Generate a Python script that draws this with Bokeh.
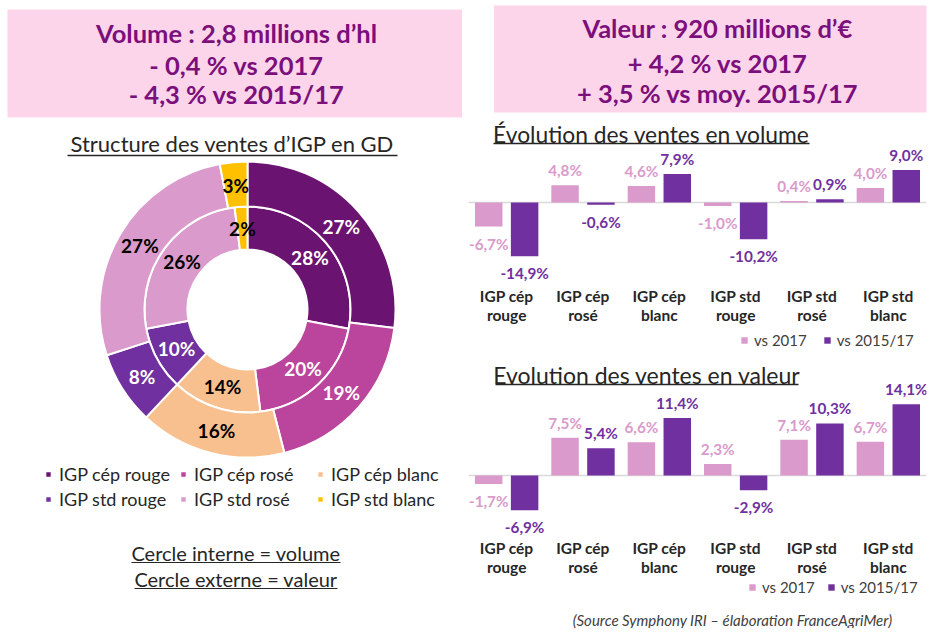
import math
from bokeh.plotting import figure
from bokeh.models import ColumnDataSource, Range1d, FactorRange, Legend, LegendItem, Span
from bokeh.layouts import row, column
from bokeh.transform import dodge
from bokeh.core.properties import value
from bokeh.embed import file_html
from bokeh.resources import INLINE

# ---------------- data ----------------
segments = ["IGP cép rouge", "IGP cép rosé", "IGP cép blanc",
            "IGP std rouge", "IGP std rosé", "IGP std blanc"]
share_volume = [28, 20, 14, 10, 26, 2]      # inner ring (%)
share_value = [27, 19, 16, 8, 27, 3]        # outer ring (%)

tick_labels = ["IGP cép\nrouge", "IGP cép\nrosé", "IGP cép\nblanc",
               "IGP std\nrouge", "IGP std\nrosé", "IGP std\nblanc"]
series_names = ["vs 2017", "vs 2015/17"]
vol_vs_2017 = [-6.7, 4.8, 4.6, -1.0, 0.4, 4.0]
vol_vs_1517 = [-14.9, -0.6, 7.9, -10.2, 0.9, 9.0]
val_vs_2017 = [-1.7, 7.5, 6.6, 2.3, 7.1, 6.7]
val_vs_1517 = [-6.9, 5.4, 11.4, -2.9, 10.3, 14.1]

header_volume = ["Volume : 2,8 millions d’hl", "- 0,4 % vs 2017", "- 4,3 % vs 2015/17"]
header_value = ["Valeur : 920 millions d’€", "+ 4,2 % vs 2017", "+ 3,5 % vs moy. 2015/17"]
title_donut = "Structure des ventes d’IGP en GD"
title_vol = "Évolution des ventes en volume"
title_val = "Evolution des ventes en valeur"
notes = ["Cercle interne = volume", "Cercle externe = valeur"]
source_note = "(Source Symphony IRI – élaboration FranceAgriMer)"

# ---------------- styles ----------------
FONT = "Lato"
seg_colors = ["#6b1370", "#bb449d", "#f8c08f", "#7030a0", "#da9acb", "#ffc000"]
seg_label_colors = ["white", "white", "black", "white", "black", "black"]
PINK_BOX = "#fdd5ea"
HDR_TXT = "#7b0f7b"
C_2017 = "#da9acb"
C_1517 = "#7030a0"
DARK = "#262626"
GREY = "#404040"

W_LEFT, W_RIGHT, H_ALL = 462, 467, 628
H_HDR = 114


def fmt(v):
    return ("%.1f" % v).replace(".", ",") + "%"


def base_fig(width, height, xr, yr):
    p = figure(width=width, height=height, x_range=xr, y_range=yr,
               output_backend="svg", toolbar_location=None, min_border=0,
               x_axis_location=None, y_axis_location=None,
               outline_line_color=None, background_fill_color="white",
               border_fill_color="white")
    p.grid.visible = False
    return p


def txt(p, x, y, s, size, color, style="normal", align="center", **kw):
    p.text(x=[x], y=[y], text=[s], text_font=value(FONT), text_font_size=size,
           text_font_style=style, text_color=color, text_align=align,
           text_baseline="middle", **kw)


# ---------------- left panel: donut ----------------
L = base_fig(W_LEFT, H_ALL, Range1d(0, W_LEFT), Range1d(-H_ALL, 0))
L.quad(left=7, right=464, bottom=-117, top=-9, fill_color=PINK_BOX, line_color=None)
for line, yy in zip(header_volume, [-32, -64, -93]):
    txt(L, 236, yy, line, "25.5px", HDR_TXT, "bold")

txt(L, 232, -143, title_donut, "22px", DARK)
L.segment(x0=[67], x1=[397], y0=[-155], y1=[-155], line_color=DARK, line_width=1.3)

CX, CY = 247, -309


def ring(shares, r_in, r_out, r_lab):
    starts, ends, lx, ly = [], [], [], []
    c = 0.0
    for s in shares:
        a0 = math.pi / 2 - 2 * math.pi * (c + s) / 100
        a1 = math.pi / 2 - 2 * math.pi * c / 100
        mid = math.pi / 2 - 2 * math.pi * (c + s / 2) / 100
        starts.append(a0)
        ends.append(a1)
        lx.append(CX + r_lab * math.cos(mid))
        ly.append(CY + r_lab * math.sin(mid))
        c += s
    src = ColumnDataSource(dict(start=starts, end=ends, color=seg_colors,
                                lx=lx, ly=ly, lab=["%d%%" % s for s in shares],
                                lc=seg_label_colors, name=segments))
    r = L.annular_wedge(x=CX, y=CY, inner_radius=r_in, outer_radius=r_out,
                        start_angle="start", end_angle="end", fill_color="color",
                        line_color="white", line_width=2, source=src)
    L.text(x="lx", y="ly", text="lab", text_color="lc", text_font=value(FONT),
           text_font_size="19px", text_font_style="bold", text_align="center",
           text_baseline="middle", source=src)
    return r


r_inner = ring(share_volume, 60, 103, 81)
r_outer = ring(share_value, 103, 148, 125)

# legend: three columns of two rows (cép over std)
for col, lx in enumerate([44, 179, 316]):
    idx = [col, col + 3]
    leg = Legend(
        items=[LegendItem(label=segments[i], renderers=[r_inner], index=i) for i in idx],
        orientation="vertical", location=(lx, 118),
        glyph_width=8, glyph_height=8, label_standoff=7, spacing=3, padding=0, margin=0,
        label_height=20, border_line_color=None, background_fill_alpha=0,
        label_text_font=FONT, label_text_font_size="18px", label_text_color=DARK)
    L.add_layout(leg)

for s, yy, x0, x1 in zip(notes, [-552, -578], [131, 134], [340, 337]):
    txt(L, 235.5, yy, s, "20px", DARK)
    L.segment(x0=[x0], x1=[x1], y0=[yy - 10], y1=[yy - 10], line_color=DARK, line_width=1.2)

# ---------------- right header ----------------
H = base_fig(W_RIGHT, H_HDR, Range1d(W_LEFT, W_LEFT + W_RIGHT), Range1d(-H_HDR, 0))
H.quad(left=488, right=940, bottom=-112, top=-5, fill_color=PINK_BOX, line_color=None)
for line, yy in zip(header_value, [-27, -62, -92]):
    txt(H, 716, yy, line, "25.5px", HDR_TXT, "bold")


# ---------------- bar charts ----------------
PAD_L, PAD_R = 6, 3
FRAME_X0 = W_LEFT + PAD_L
FRAME_W = W_RIGHT - PAD_L - PAD_R


def sx(px):
    # page pixel -> synthetic categorical coordinate
    return (px - FRAME_X0) / FRAME_W * len(segments)


def bar_chart(title, s1, s2, top, bottom, zero_y, px_per_unit, title_y, ul, title_size,
              legend_x, legend_bottom, legend_spacing, tick_y):
    vmax = (zero_y - top) / px_per_unit
    vmin = (zero_y - bottom) / px_per_unit
    p = base_fig(W_RIGHT, bottom - top, FactorRange(*segments), Range1d(vmin, vmax))
    p.min_border_left = PAD_L
    p.min_border_right = PAD_R
    p.extra_y_ranges = {"px": Range1d(-bottom, -top)}
    p.add_layout(Span(location=0, dimension="width", line_color="#d9d9d9",
                      line_width=1.5, level="underlay"))
    src = ColumnDataSource(dict(
        cat=segments, a=s1, b=s2,
        la=[fmt(v) for v in s1], lb=[fmt(v) for v in s2],
        oa=[-15 if v >= 0 else 17 for v in s1], ob=[-15 if v >= 0 else 17 for v in s2],
        tick=tick_labels))
    r1 = p.vbar(x=dodge("cat", -0.235, range=p.x_range), top="a", bottom=0, width=0.36,
                fill_color=C_2017, line_color=None, source=src)
    r2 = p.vbar(x=dodge("cat", 0.235, range=p.x_range), top="b", bottom=0, width=0.36,
                fill_color=C_1517, line_color=None, source=src)
    for off, col, lab, yo, c in [(-0.235, "a", "la", "oa", C_2017), (0.235, "b", "lb", "ob", C_1517)]:
        p.text(x=dodge("cat", off, range=p.x_range), y=col, text=lab, y_offset=yo,
               text_font=value(FONT), text_font_size="15.3px", text_font_style="bold",
               text_color=c, text_align="center", text_baseline="middle", source=src)
    p.text(x="cat", y=-tick_y, text="tick", y_range_name="px", text_font=value(FONT),
           text_font_size="15.5px", text_font_style="bold", text_color=DARK,
           text_align="center", text_baseline="middle", text_line_height=1.1, source=src)
    txt(p, sx((ul[0] + ul[1]) / 2), -title_y, title, title_size, DARK, y_range_name="px")
    p.segment(x0=[sx(ul[0])], x1=[sx(ul[1])], y0=[-title_y - 10], y1=[-title_y - 10],
              line_color=DARK, line_width=1.3, y_range_name="px")
    leg = Legend(items=[LegendItem(label=series_names[0], renderers=[r1]),
                        LegendItem(label=series_names[1], renderers=[r2])],
                 orientation="horizontal", location=(legend_x, legend_bottom),
                 glyph_width=8, glyph_height=8, label_standoff=6, spacing=legend_spacing,
                 padding=0, margin=0, label_height=20, border_line_color=None,
                 background_fill_alpha=0, label_text_font=FONT,
                 label_text_font_size="15px", label_text_color=GREY)
    p.add_layout(leg)
    return p


C1 = bar_chart(title_vol, vol_vs_2017, vol_vs_1517, H_HDR, 358, 202, 3.6, 133, (493, 809),
               "22.8px", 272, 8, 16, 305)
C2 = bar_chart(title_val, val_vs_2017, val_vs_1517, 358, H_ALL, 475, 5.05, 374, (495, 798),
               "23px", 280, 31, 12, 557)
txt(C2, sx(732), -619, source_note, "15px", GREY, "italic", y_range_name="px")

layout = row(L, column(H, C1, C2))
open("out.html", "w").write(file_html(layout, INLINE))
